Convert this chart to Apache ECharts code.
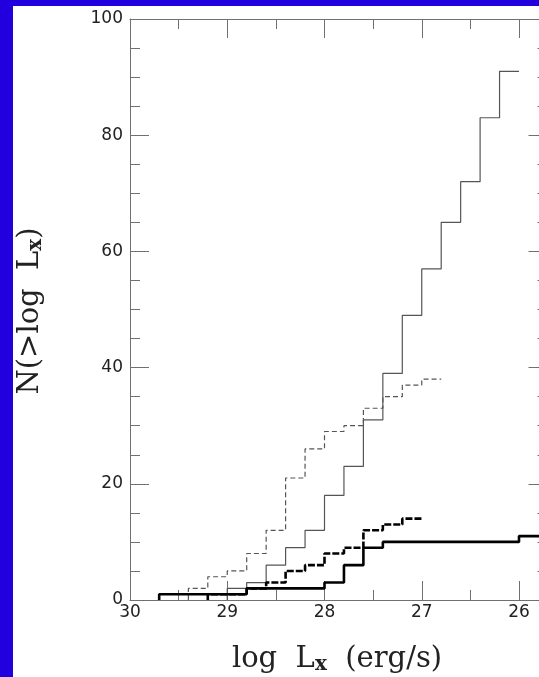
<!DOCTYPE html>
<html>
<head>
<meta charset="utf-8">
<script src="https://cdn.jsdelivr.net/npm/echarts@6/dist/echarts.min.js"></script>
<style>
html,body{margin:0;padding:0;background:#fff;}
#c{position:absolute;left:0;top:0;width:539px;height:677px;}
.bl{position:absolute;left:0;top:0;width:13px;height:677px;background:#2200dd;z-index:5;}
.bt{position:absolute;left:0;top:0;width:539px;height:6px;background:#2200dd;z-index:5;}
</style>
</head>
<body>
<div id="c"></div>
<div class="bl"></div>
<div class="bt"></div>
<script>
// thresholds (log Lx) and cumulative counts N(>log Lx)
const xThinSolid = [29.0, 28.8, 28.6, 28.4, 28.2, 28.0, 27.8, 27.6, 27.4, 27.2, 27.0, 26.8, 26.6, 26.4, 26.2];
const nThinSolid = [2, 3, 6, 9, 12, 18, 23, 31, 39, 49, 57, 65, 72, 83, 91];
const endThinSolid = 26.0;

const xThinDashed = [29.4, 29.2, 29.0, 28.8, 28.6, 28.4, 28.2, 28.0, 27.8, 27.6, 27.4, 27.2, 27.0];
const nThinDashed = [2, 4, 5, 8, 12, 21, 26, 29, 30, 33, 35, 37, 38];
const endThinDashed = 26.8;

const xThickDashed = [29.2, 28.8, 28.6, 28.4, 28.2, 28.0, 27.8, 27.6, 27.4, 27.2];
const nThickDashed = [1, 2, 3, 5, 6, 8, 9, 12, 13, 14];
const endThickDashed = 27.0;

const xThickSolid = [29.7, 28.8, 28.0, 27.8, 27.6, 27.4, 26.0];
const nThickSolid = [1, 2, 3, 6, 9, 10, 11];
const endThickSolid = 25.7;

const xTickLabels = [30, 29, 28, 27, 26];

function stepData(xs, ns, xEnd) {
  const d = [[xs[0], 0]];
  for (let i = 0; i < xs.length; i++) d.push([xs[i], ns[i]]);
  d.push([xEnd, ns[ns.length - 1]]);
  return d;
}

const axisCol = '#707070';
const labelFont = {fontFamily: 'DejaVu Sans', fontSize: 17, color: '#222'};

function xAx(pos, showLabel) {
  return {
    type: 'value', position: pos, min: 25, max: 30, inverse: true, interval: 1,
    axisLine: {show: true, onZero: false, lineStyle: {color: axisCol, width: 1}},
    axisTick: {show: true, inside: true, length: 19, lineStyle: {color: axisCol, width: 1}},
    minorTick: {show: true, splitNumber: 2, length: 10, lineStyle: {color: axisCol, width: 1}},
    splitLine: {show: false}, minorSplitLine: {show: false},
    axisLabel: Object.assign({show: showLabel, margin: 4,
      formatter: v => (xTickLabels.indexOf(v) >= 0 ? String(v) : '')}, labelFont)
  };
}
function yAx(pos, showLabel, offset) {
  return {
    type: 'value', position: pos, min: 0, max: 100, interval: 20, offset: offset,
    axisLine: {show: true, onZero: false, lineStyle: {color: axisCol, width: 1}},
    axisTick: {show: true, inside: true, length: 19, lineStyle: {color: axisCol, width: 1}},
    minorTick: {show: true, splitNumber: 4, length: 10, lineStyle: {color: axisCol, width: 1}},
    splitLine: {show: false}, minorSplitLine: {show: false},
    axisLabel: Object.assign({show: showLabel, margin: 7}, labelFont)
  };
}

const chart = echarts.init(document.getElementById('c'), null, {renderer: 'canvas'});
chart.setOption({
  backgroundColor: '#fff',
  animation: false,
  grid: {left: 130, top: 19, width: 486.25, height: 581, containLabel: false, outerBoundsMode: 'none'},
  xAxis: [xAx('bottom', true), xAx('top', false)],
  yAxis: [yAx('left', true, 0), yAx('right', false, -68.75)],
  series: [
    {type: 'line', step: 'end', symbol: 'none', data: stepData(xThinSolid, nThinSolid, endThinSolid),
     lineStyle: {color: '#555', width: 1.2}},
    {type: 'line', step: 'end', symbol: 'none', data: stepData(xThinDashed, nThinDashed, endThinDashed),
     lineStyle: {color: '#555', width: 1.2, type: [5, 3]}},
    {type: 'line', step: 'end', symbol: 'none', data: stepData(xThickSolid, nThickSolid, endThickSolid),
     lineStyle: {color: '#000', width: 2.6}},
    {type: 'line', step: 'end', symbol: 'none', data: stepData(xThickDashed, nThickDashed, endThickDashed),
     lineStyle: {color: '#000', width: 2.6, type: [7, 2]}}
  ],
  graphic: [
    {type: 'text', x: 337, y: 659,
     style: {text: '{a|log  L}{s|x}{a|  (erg/s)}', align: 'center', verticalAlign: 'middle',
       rich: {a: {fontFamily: 'DejaVu Serif', fontSize: 29, fill: '#222'},
              s: {fontFamily: 'DejaVu Serif', fontSize: 20, fontWeight: 'bold', fill: '#222', padding: [12, 0, 0, 0]}}}},
    {type: 'text', x: 30, y: 311, rotation: Math.PI / 2,
     style: {text: '{a|N(>log  L}{s|x}{a|)}', align: 'center', verticalAlign: 'middle',
       rich: {a: {fontFamily: 'DejaVu Serif', fontSize: 29, fill: '#222'},
              s: {fontFamily: 'DejaVu Serif', fontSize: 20, fontWeight: 'bold', fill: '#222', padding: [12, 0, 0, 0]}}}}
  ]
});
</script>
</body>
</html>
